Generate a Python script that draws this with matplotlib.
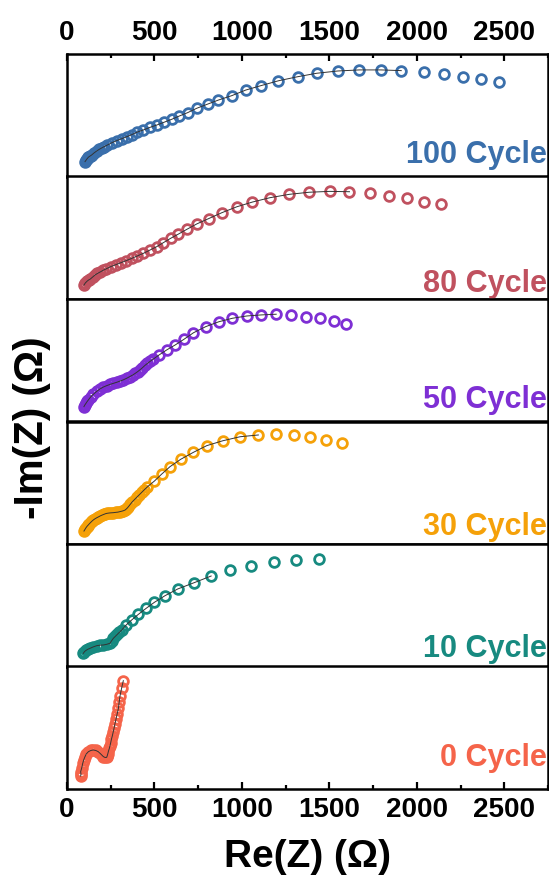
import matplotlib
matplotlib.use('Agg')
import matplotlib.pyplot as plt
from matplotlib.ticker import MultipleLocator

plt.rcParams['font.family'] = ['Liberation Sans', 'DejaVu Sans']
plt.rcParams['font.weight'] = 'bold'

# Nyquist data, Re(Z) / -Im(Z) in ohm
x_100 = [103, 108, 113, 118, 122, 129, 135, 141, 155, 170, 184, 198, 213, 227, 256, 284, 313, 341, 370,
         402, 437, 475, 513, 555, 599, 643, 690, 742, 805, 866, 942, 1022, 1108, 1209, 1318, 1428,
         1549, 1672, 1796, 1911, 2039, 2153, 2264, 2367, 2468]
y_100 = [5, 12, 19, 25, 30, 35, 39, 43, 55, 66, 75, 83, 91, 98, 113, 125, 136, 147, 159,
         174, 186, 201, 214, 230, 247, 266, 285, 310, 334, 357, 382, 414, 439, 467, 490, 510,
         523, 529, 529, 525, 515, 506, 490, 475, 458]

x_80 = [97, 105, 115, 124, 132, 146, 160, 174, 189, 205, 221, 250, 279, 307, 338, 370, 402, 437, 475,
        513, 551, 593, 637, 685, 742, 809, 885, 971, 1060, 1161, 1270, 1384, 1501, 1615, 1733,
        1842, 1943, 2042, 2140]
y_80 = [0, 12, 22, 29, 33, 45, 57, 66, 74, 83, 91, 105, 116, 127, 139, 152, 166, 181, 200,
        219, 242, 267, 291, 318, 349, 379, 413, 447, 474, 499, 518, 530, 535, 533, 524,
        510, 495, 476, 463]

x_50 = [97, 103, 110, 116, 122, 135, 150, 170, 189, 208, 227, 246, 265, 284, 303, 322, 341, 358, 376,
        390, 404, 418, 431, 445, 460, 477, 494, 526, 570, 618, 669, 723, 793, 868, 946, 1028,
        1110, 1196, 1280, 1365, 1444, 1524, 1596]
y_50 = [5, 16, 26, 35, 43, 60, 75, 92, 106, 117, 125, 132, 138, 144, 151, 158, 167, 176, 186,
        195, 205, 216, 227, 240, 252, 265, 277, 300, 329, 357, 390, 427, 462, 490, 510, 523,
        529, 533, 529, 519, 510, 496, 477]

x_30 = [97, 103, 108, 113, 118, 122, 128, 135, 142, 150, 160, 170, 180, 189, 200, 210, 220, 227, 240,
        250, 265, 280, 290, 303, 315, 322, 332, 340, 345, 351, 362, 374, 386, 399, 413, 427,
        443, 460, 500, 542, 589, 650, 723, 799, 891, 990, 1094, 1196, 1295, 1390, 1480, 1571]
y_30 = [-6, 4, 12, 19, 25, 29, 36, 43, 50, 57, 64, 70, 75, 80, 85, 89, 93, 95, 97,
        98, 99, 101, 102, 105, 108, 110, 114, 121, 126, 133, 147, 162, 174, 187, 201, 215,
        231, 247, 280, 320, 362, 404, 444, 482, 510, 533, 543, 547, 543, 530, 514, 495]

x_10 = [93, 100, 110, 120, 132, 150, 170, 190, 208, 228, 246, 255, 265, 276, 288, 300, 313, 338, 370,
        408, 452, 500, 561, 633, 727, 824, 933, 1051, 1181, 1308, 1438]
y_10 = [-5, 5, 13, 19, 24, 32, 39, 42, 43, 47, 53, 67, 81, 92, 104, 116, 129, 157, 186,
        218, 252, 287, 325, 363, 399, 437, 471, 496, 515, 529, 533]

x_0 = [78, 80, 78, 84, 90, 96, 103, 110, 122, 136, 150, 165, 179, 193, 208, 218, 227, 230, 233,
       237, 242, 246, 250, 254, 259, 264, 269, 274, 280, 287, 294, 298, 303, 312, 322]
y_0 = [-6, 5, 19, 40, 67, 88, 105, 120, 133, 140, 143, 140, 133, 120, 105, 100, 101, 110, 120,
       136, 152, 168, 185, 204, 223, 245, 267, 292, 318, 350, 381, 415, 451, 495, 539]

# last Re(Z) covered by the fitted curve in each panel
fit_end = [1911, 1615, 1196, 1094, 824, 322]

labels = ['100 Cycle', '80 Cycle', '50 Cycle', '30 Cycle', '10 Cycle', '0 Cycle']
colors = ['#3a6fab', '#c0515f', '#7e2fd4', '#f5a109', '#178a80', '#f5644a']
xs = [x_100, x_80, x_50, x_30, x_10, x_0]
ys = [y_100, y_80, y_50, y_30, y_10, y_0]
label_y = [0.11, 0.057, 0.11, 0.073, 0.08, 0.19]

fig = plt.figure(figsize=(5.49, 8.75), dpi=100)

left, right = 67 / 549, 548 / 549
top, bottom = 1 - 54 / 875, 1 - 789 / 875
h = (top - bottom) / 6

for i in range(6):
    ax = fig.add_axes([left, top - (i + 1) * h, right - left, h])
    x, y = xs[i], ys[i]
    ax.plot(x, y, 'o', mfc='none', mec=colors[i], ms=7, mew=2, zorder=2)
    xf = [v for v in x if v <= fit_end[i]]
    ax.plot(xf, y[:len(xf)], '-', color='#333333', lw=0.7, zorder=3)
    ax.text(0.997, label_y[i], labels[i], transform=ax.transAxes, ha='right', va='baseline',
            color=colors[i], fontsize=22, fontweight='bold', zorder=5, clip_on=False)

    ax.set_xlim(0, 2750)
    ax.set_ylim(-80, 620)
    ax.set_yticks([])
    ax.xaxis.set_major_locator(MultipleLocator(500))
    ax.xaxis.set_minor_locator(MultipleLocator(250))
    for s in ax.spines.values():
        s.set_linewidth(1.8)
    ax.tick_params(axis='x', which='both', direction='in', width=1.6,
                   top=(i == 0), bottom=(i == 5), labeltop=(i == 0), labelbottom=(i == 5),
                   labelsize=20, pad=6)
    ax.tick_params(axis='x', which='major', length=5)
    ax.tick_params(axis='x', which='minor', length=3)
    for lab in ax.get_xticklabels():
        lab.set_fontweight('bold')

fig.text((left + right) / 2, 1 - 857 / 875, 'Re(Z) (Ω)', ha='center', va='center',
         fontsize=28, fontweight='bold')
fig.text(32 / 549, 1 - 428 / 875, '-Im(Z) (Ω)', ha='center', va='center', rotation=90,
         fontsize=29, fontweight='bold')

fig.savefig('out.png', dpi=100)
